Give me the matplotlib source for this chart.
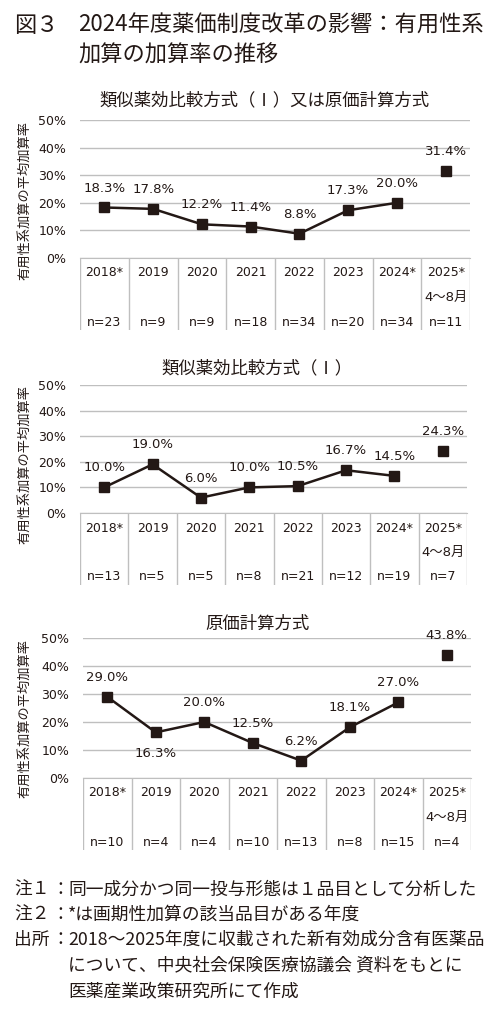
import matplotlib.pyplot as plt

plt.rcParams['font.family'] = ['Noto Sans CJK JP', 'DejaVu Sans']
num_font = ['DejaVu Sans', 'Noto Sans CJK JP']

W, H = 500, 1014
ink = '#231815'
grid_c = '#bfbfbf'

years = ['2018*', '2019', '2020', '2021', '2022', '2023', '2024*', '2025*']
sub_label = '4～8月'

# Panel data (rates in %, sample sizes)
titles = ['類似薬効比較方式（Ⅰ）又は原価計算方式', '類似薬効比較方式（Ⅰ）', '原価計算方式']
rate1 = [18.3, 17.8, 12.2, 11.4, 8.8, 17.3, 20.0, 31.4]
n1 = [23, 9, 9, 18, 34, 20, 34, 11]
rate2 = [10.0, 19.0, 6.0, 10.0, 10.5, 16.7, 14.5, 24.3]
n2 = [13, 5, 5, 8, 21, 12, 19, 7]
rate3 = [29.0, 16.3, 20.0, 12.5, 6.2, 18.1, 27.0, 43.8]
n3 = [10, 4, 4, 10, 13, 8, 15, 4]
below3 = [1]  # labels placed under the point in panel 3

panels = [
    # rates, n, title, left, right, top, bottom, table bottom, title x, title y, ylabel y, label below
    (rate1, n1, titles[0], 80, 470, 120, 258, 330, 265, 100, 201, []),
    (rate2, n2, titles[1], 80, 467, 385, 513, 585, 257, 368, 465, []),
    (rate3, n3, titles[2], 83, 471, 638, 778, 850, 257, 624, 718, below3),
]

fig = plt.figure(figsize=(W / 100, H / 100), dpi=100)


def box(l, r, t, b):
    return [l / W, 1 - b / H, (r - l) / W, (b - t) / H]


for rates, ns, title, l, r, t, b, tb, tx, ty, ly, below in panels:
    ax = fig.add_axes(box(l, r, t, b))
    xs = list(range(len(years)))
    ax.plot(xs[:7], [v / 100 for v in rates[:7]], color=ink, lw=1.8,
            marker='s', ms=7, zorder=3)
    ax.plot(xs[7:], [v / 100 for v in rates[7:]], color=ink, lw=0,
            marker='s', ms=7, zorder=3)
    for i, v in enumerate(rates):
        dy = -15 if i in below else 14
        ax.annotate(f'{v:.1f}%', (i, v / 100), xytext=(0, dy),
                    textcoords='offset points', ha='center', va='center',
                    fontsize=9.5, color=ink, family=num_font)
    ax.set_xlim(-0.5, 7.5)
    ax.set_ylim(0, 0.5)
    ax.set_yticks([0, 0.1, 0.2, 0.3, 0.4, 0.5])
    ax.set_yticklabels(['0%', '10%', '20%', '30%', '40%', '50%'], family=num_font)
    ax.tick_params(axis='y', length=0, pad=10, labelsize=9, labelcolor=ink)
    ax.set_xticks([])
    ax.yaxis.grid(True, color=grid_c, lw=1)
    ax.set_axisbelow(True)
    for s in ['left', 'right', 'top']:
        ax.spines[s].set_visible(False)
    ax.spines['bottom'].set_color(grid_c)
    ax.set_ylabel('有用性系加算の平均加算率', fontsize=9.5, color=ink)
    ax.yaxis.set_label_coords((31 - l) / (r - l), (b - ly) / (b - t))
    ax.patch.set_alpha(0)

    # table under the axis
    tab = fig.add_axes(box(l, r, b, tb))
    tab.set_xlim(-0.5, 7.5)
    tab.set_ylim(0, tb - b)
    tab.invert_yaxis()
    tab.axis('off')
    for k in range(len(years) + 1):
        tab.plot([k - 0.5, k - 0.5], [0, tb - b], color=grid_c, lw=1)
    for i, (yr, n) in enumerate(zip(years, ns)):
        tab.text(i, 15, yr, ha='center', va='center', fontsize=9,
                 color=ink, family=num_font)
        tab.text(i, 64, f'n={n}', ha='center', va='center', fontsize=9,
                 color=ink, family=num_font)
    tab.text(7, 39, sub_label, ha='center', va='center', fontsize=9.5,
             color=ink, family=num_font)

    fig.text(tx / W, 1 - ty / H, title, ha='center', va='center',
             fontsize=12.5, color=ink)

# main title
fig.text(14 / W, 1 - 25 / H, '図３', ha='left', va='center', fontsize=16, color=ink)
fig.text(78 / W, 1 - 25 / H, '2024年度薬価制度改革の影響：有用性系',
         ha='left', va='center', fontsize=16, color=ink)
fig.text(78 / W, 1 - 55 / H, '加算の加算率の推移',
         ha='left', va='center', fontsize=16, color=ink)

# notes
heads = ['注１', '注２', '出所', '', '']
bodies = ['同一成分かつ同一投与形態は１品目として分析した',
          '*は画期性加算の該当品目がある年度',
          '2018～2025年度に収載された新有効成分含有医薬品',
          'について、中央社会保険医療協議会 資料をもとに',
          '医薬産業政策研究所にて作成']
note_y = [890, 915, 940, 966, 991]
for hd, bd, y in zip(heads, bodies, note_y):
    if hd:
        fig.text(14 / W, 1 - y / H, hd, ha='left', va='center', fontsize=12.8, color=ink)
        fig.text(60 / W, 1 - y / H, '：', ha='center', va='center', fontsize=12.8, color=ink)
    fig.text(68 / W, 1 - y / H, bd, ha='left', va='center', fontsize=12.8, color=ink)

fig.savefig('out.png', dpi=100)
